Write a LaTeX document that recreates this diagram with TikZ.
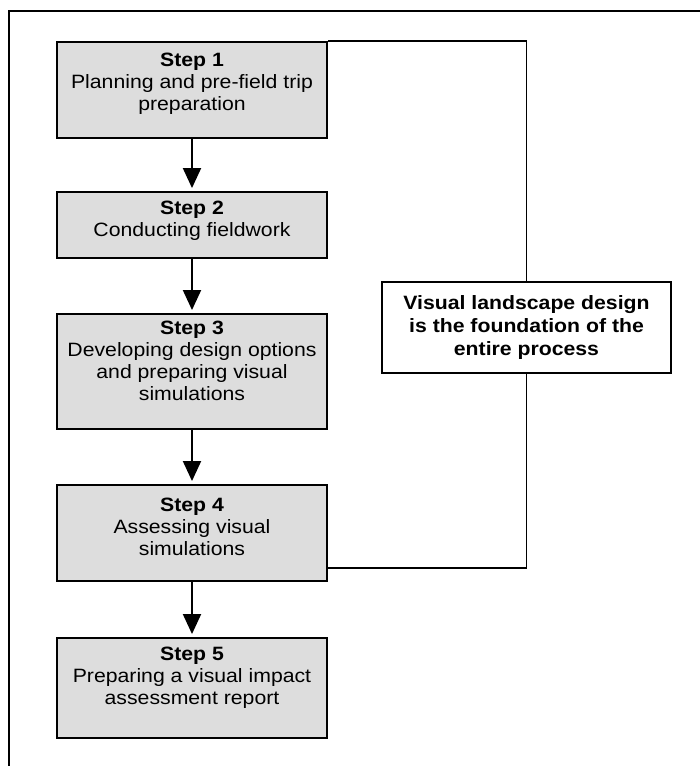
\documentclass[tikz,border=0pt]{standalone}
\usepackage{fontspec}
\setmainfont[FakeStretch=1.1]{Liberation Sans}
\usetikzlibrary{arrows.meta}

\tikzset{
  stepbox/.style={draw, line width=1.9pt, fill=gray!27, minimum width=270pt, inner sep=0pt},
  steptext/.style={anchor=north, inner sep=0pt, align=center, font=\fontsize{19.3}{22}\selectfont},
  notebox/.style={draw, line width=1.9pt, fill=white, minimum width=289pt, minimum height=91pt,
    inner sep=0pt, align=center, font=\fontsize{19.3}{23}\selectfont\bfseries},
  flow/.style={line width=1.9pt, -{Triangle[width=18pt,length=20pt]}, shorten >=3pt},
  link/.style={line width=1.9pt}
}

\begin{document}
\begin{tikzpicture}[x=1pt,y=1pt]
    \useasboundingbox (0,0) rectangle (700,-766);

    % --- Outer frame (only left and top edges show) ---
    \draw[line width=2pt] (9,-790) -- (9,-10.5) -- (720,-10.5);

    % --- Step boxes ---
    \node[stepbox, minimum height=96pt]  (s1) at (192,-90)    {};
    \node[stepbox, minimum height=66pt]  (s2) at (192,-225)   {};
    \node[stepbox, minimum height=115pt] (s3) at (192,-371.5) {};
    \node[stepbox, minimum height=96pt]  (s4) at (192,-533)   {};
    \node[stepbox, minimum height=100pt] (s5) at (192,-688)   {};

    % --- Step texts ---
    \node[steptext] (t1) at ([yshift=-12pt]s1.north) {\textbf{Step 1}\\Planning and pre-field trip\\preparation};
    \node[steptext] (t2) at ([yshift=-10pt]s2.north) {\textbf{Step 2}\\Conducting fieldwork};
    \node[steptext] (t3) at ([yshift=-8pt]s3.north) {\textbf{Step 3}\\Developing design options\\and preparing visual\\simulations};
    \node[steptext] (t4) at ([yshift=-14pt]s4.north) {\textbf{Step 4}\\Assessing visual\\simulations};
    \node[steptext] (t5) at ([yshift=-10pt]s5.north) {\textbf{Step 5}\\Preparing a visual impact\\assessment report};

    % --- Side note ---
    \node[notebox] (note) at (526.5,-327.5) {Visual landscape design\\is the foundation of the\\entire process};

    % --- Arrows between steps ---
    \draw[flow] (s1.south) -- (s2.north);
    \draw[flow] (s2.south) -- (s3.north);
    \draw[flow] (s3.south) -- (s4.north);
    \draw[flow] (s4.south) -- (s5.north);

    % --- Loop through the note ---
    \coordinate (back) at ([yshift=14pt]s4.south east);
    \draw[link] (s1.north east) -| (note.north);
    \draw[link] (note.south) |- (back);

\end{tikzpicture}
\end{document}
